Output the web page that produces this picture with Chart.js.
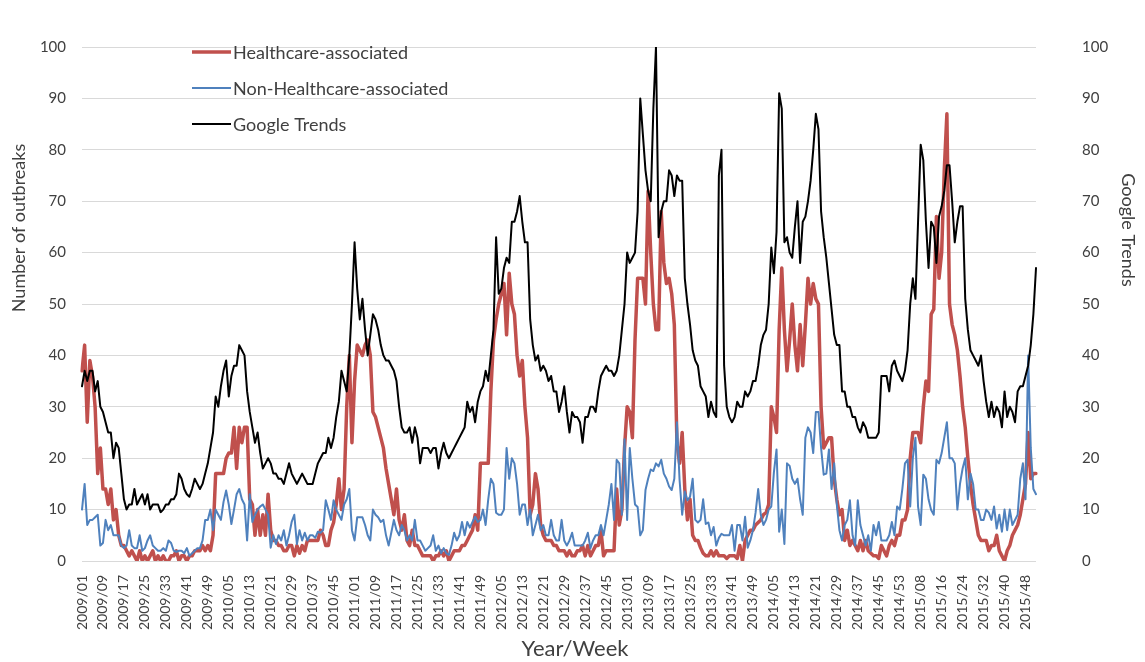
<!DOCTYPE html>
<html>
<head>
<meta charset="UTF-8">
<title>Outbreaks and Google Trends</title>
<script src="https://cdn.jsdelivr.net/npm/chart.js@4.4.0/dist/chart.umd.min.js"></script>
<style>
  html, body { margin: 0; padding: 0; background: #fff; }
</style>
</head>
<body>
<canvas id="myChart" width="1145" height="662"></canvas>
<script>
// weeks 2009/01 .. 2015/52 (2014 has 53 weeks)
const years = [2009, 2010, 2011, 2012, 2013, 2014, 2015];
const weeksInYear = [52, 52, 52, 52, 52, 53, 52];
const weeks = [];
years.forEach((y, k) => {
  for (let w = 1; w <= weeksInYear[k]; w++) weeks.push(y + '/' + String(w).padStart(2, '0'));
});

const yTicks = [0, 10, 20, 30, 40, 50, 60, 70, 80, 90, 100];

const healthcare = [
  37, 42, 27, 39, 36, 30, 17, 22,
  14, 14, 11, 14, 8, 10, 5, 3,
  3, 2, 1, 2, 1, 0, 2, 0,
  1, 0, 1, 2, 0, 1, 0, 1,
  0, 0, 1, 1, 2, 0, 1, 1,
  0, 1, 1, 2, 2, 2, 3, 2,
  3, 2, 5, 17, 17, 17, 17, 20,
  21, 21, 26, 18, 26, 23, 26, 26,
  12, 11, 5, 10, 5, 9, 5, 13,
  6, 4, 4, 3, 3, 2, 2, 3,
  3, 1, 3, 1.5, 3, 2, 4, 4,
  4, 4, 4, 6, 5, 3, 3, 6,
  7.5, 11, 16, 10, 14, 30, 40, 23,
  35, 42, 41, 40, 42, 43, 40, 29,
  28, 26, 24, 22, 18, 15, 12, 9,
  14, 8, 6, 9, 4, 3, 6, 3,
  3, 2, 1, 1, 1, 1, 0, 1,
  1, 2, 1, 2, 0, 1, 2, 2,
  2, 3, 3, 4, 5, 6, 9, 6,
  19, 19, 19, 19, 33, 43, 47, 50,
  52, 54, 44, 56, 50, 48, 40, 36,
  39, 30, 24, 9, 11, 17, 14, 7,
  5, 4, 4, 4, 3, 3, 2, 2,
  2, 1, 2, 1, 1, 2, 2, 3,
  1, 3, 1, 2, 3, 3, 6, 1,
  2, 2, 2, 2, 14, 7, 10, 22,
  30, 29, 24, 43, 55, 55, 55, 50,
  72, 60, 50, 45, 45, 68, 58, 54,
  55, 52, 46, 23, 19, 25, 14, 8,
  12, 5, 4, 4, 2.6, 1.5, 1, 1,
  2, 1, 2, 1, 1, 1, 0.5, 1,
  1, 1, 0.5, 3, 0, 4, 5, 6,
  6, 7, 7.5, 8, 9, 9.4, 11, 30,
  28, 25, 45, 57, 45, 37, 43, 50,
  42, 37, 46, 38, 46, 55, 50, 54,
  51, 50, 30, 22, 23, 24, 24, 16,
  12, 9, 10, 4, 6, 3, 4, 3,
  2, 4, 2, 4, 2, 1.5, 1, 1,
  0.5, 3, 2, 1, 3, 4, 3, 5,
  5, 8, 8, 10, 20, 25, 25, 25,
  23, 30, 35, 33, 48, 49, 67, 55,
  60, 76, 87, 50, 46, 44, 41, 36,
  30, 26, 20, 15, 11, 8, 5, 4,
  4, 4, 2, 3, 3, 5, 2, 1,
  0, 2, 3, 5, 6, 7, 9, 12,
  15, 25, 16, 17, 17
];

const nonHealthcare = [
  10, 15, 7, 8, 8, 8.5, 9, 3,
  3.5, 8, 6, 7, 5, 5, 5, 3,
  2.5, 3, 6, 3, 2.5, 2.5, 5, 2,
  2.5, 4, 5, 3, 2.5, 2, 2, 2.5,
  2, 4, 3.5, 2, 1.8, 2, 2, 1.5,
  2.5, 1, 1.5, 2, 2.5, 2.5, 4, 8,
  8, 10, 6, 10, 9, 8, 11.5, 13.7,
  11, 7.2, 10, 13, 14, 12, 11, 4,
  13, 7.6, 9, 10, 10.6, 11, 10, 9,
  2.6, 5, 3.3, 5, 4, 6, 3, 5,
  7.6, 9, 3.3, 6, 4, 5.5, 4, 5,
  5, 4.5, 5.7, 5.5, 6, 11.8, 10, 8,
  11.8, 10, 9, 8, 11, 12, 14, 6,
  4, 8.5, 8.5, 8.5, 7, 5, 4, 10,
  9, 8.5, 7.6, 8, 5, 3, 5.5, 8,
  6, 5, 7, 6, 4, 5, 4, 8,
  4, 4, 3, 2, 2.5, 3, 5, 2,
  3, 1.5, 2.5, 1.5, 1.2, 3, 5.5, 4,
  5, 7.6, 5, 7.6, 6.5, 7.6, 8.6, 7.6,
  8, 10, 7, 12, 16, 15, 9.4, 9,
  9, 10, 22, 16, 20, 19, 15, 9,
  11, 11, 7, 10, 5, 7, 9, 6,
  7, 5, 5, 8, 5, 4, 4, 8,
  4, 3, 4, 5.5, 3, 3, 3, 3,
  4, 5.5, 2.5, 4, 5, 5, 7, 5,
  8, 11, 15, 8, 19.7, 19, 9, 23.7,
  8, 22, 16, 11, 10.5, 5, 6, 13.8,
  16, 17.8, 17.5, 19, 18.4, 19.7, 17, 16,
  14.5, 13.8, 16, 27, 15.8, 9, 13.5, 11.8,
  12.5, 16, 8, 7.5, 8, 12, 7.2, 7.5,
  5, 6.6, 3, 4.5, 5.3, 5, 5, 5,
  7, 2, 7, 7, 4, 8.6, 2.6, 4,
  6, 9.4, 14, 9, 7, 8, 10, 10.6,
  17.3, 21.7, 5.7, 10, 3.3, 19, 18.5, 16,
  15, 16, 12, 9, 24, 26, 25, 21,
  29, 29, 22, 16.8, 17, 21.7, 14, 19,
  11, 6, 4, 7, 8, 11.8, 5, 3,
  11.8, 7, 5, 3, 5, 2, 7, 5,
  7.6, 4, 4, 4, 5, 7.6, 5, 10.6,
  10, 14, 19, 19.7, 10.6, 20, 24, 10.6,
  7, 16.8, 16, 12, 9.9, 9, 19.7, 19,
  21, 24, 27, 20, 20, 19, 10, 15,
  18, 20, 12, 17, 15, 10, 10, 8,
  8, 10, 9.4, 8, 10.6, 6.3, 9, 5.7,
  10, 6, 10, 7, 8, 9, 16, 19,
  12, 40, 22, 14, 13
];

const googleTrends = [
  34, 37, 35, 37, 37, 33, 35, 30,
  29, 27, 25, 25, 20, 23, 22, 17,
  12, 10, 11, 11, 14, 11, 12, 13,
  11, 13, 10, 11, 11, 11, 9.5, 10,
  11, 11, 12, 12, 13, 17, 16, 14,
  13, 12.5, 14, 16, 15, 14, 15, 17,
  19, 22, 25, 32, 30, 34, 37, 39,
  32, 36, 38, 38, 42, 41, 40, 33,
  29, 26, 23, 25, 21, 18, 19, 20,
  19, 17, 17, 16, 16, 15, 17, 19,
  17, 16, 15, 16, 17, 16, 15, 15,
  15, 17, 19, 20, 21, 21, 24, 22,
  24, 28, 31, 37, 35, 33, 40, 50,
  62, 53, 47, 51, 45, 40, 44, 48,
  47, 45, 42, 40, 39, 39, 38, 37,
  35, 30, 26, 25, 25, 26, 23, 26,
  24, 19, 22, 22, 22, 21, 22, 22,
  18, 21, 23, 21, 20, 21, 22, 23,
  24, 25, 26, 31, 29, 30, 27, 31,
  33, 34, 37, 35, 40, 45, 63, 52,
  53, 57, 59, 58, 66, 66, 68, 71,
  66, 62, 62, 47, 42, 39, 40, 37,
  38, 37, 35, 36, 33, 33, 29, 31,
  34, 29, 25, 29, 28, 28, 27, 23,
  28, 28, 30, 30, 29, 33, 36, 37,
  38, 37, 37, 36, 37, 40, 45, 50,
  60, 58, 59, 60, 68, 90, 83, 76,
  72, 70, 88, 100, 63, 68, 70, 70,
  76, 75, 71, 75, 74, 74, 55, 50,
  46, 41, 39, 38, 34, 33, 32, 28,
  31, 29, 28, 75, 80, 38, 30, 28,
  27, 28, 31, 30, 30, 33, 32, 33,
  35, 35, 38, 42, 44, 45, 50, 61,
  56, 64, 91, 88, 62, 63, 60, 59,
  65, 70, 58, 66, 67, 70, 74, 80,
  87, 84, 68, 63, 59, 54, 49, 44,
  42, 42, 33, 33, 30, 30, 28, 28,
  26, 25, 27, 26, 24, 24, 24, 24,
  25, 36, 36, 36, 33, 38, 39, 37,
  36, 35, 37, 41, 50, 55, 51, 66,
  81, 78, 66, 57, 66, 65, 58, 67,
  69, 72, 77, 77, 70, 62, 66, 69,
  69, 51, 45, 41, 40, 39, 38, 40,
  35, 31, 28, 31, 28, 30, 29, 26,
  33, 28, 30, 29, 27, 33, 34, 34,
  36, 38, 42, 48, 57
];

const FONT = 'Lato, "Open Sans", sans-serif';
const TEXT = '#404040';

// legend + axis titles drawn by hand, Excel style
const decorations = {
  id: 'decorations',
  afterDraw(chart) {
    const ctx = chart.ctx;
    ctx.save();
    ctx.textBaseline = 'middle';
    ctx.font = '18px ' + FONT;
    chart.data.datasets.forEach((ds, i) => {
      const y = 52 + i * 36;
      ctx.strokeStyle = ds.borderColor;
      ctx.lineWidth = ds.borderWidth;
      ctx.beginPath();
      ctx.moveTo(192, y);
      ctx.lineTo(231, y);
      ctx.stroke();
      ctx.fillStyle = TEXT;
      ctx.textAlign = 'left';
      ctx.fillText(ds.label, 233, y + 1);
    });

    ctx.fillStyle = TEXT;
    ctx.textAlign = 'center';
    ctx.font = '22px ' + FONT;
    ctx.fillText('Year/Week', 575, 649);

    ctx.font = '18px ' + FONT;
    ctx.save();
    ctx.translate(19, 228);
    ctx.rotate(-Math.PI / 2);
    ctx.fillText('Number of outbreaks', 0, 0);
    ctx.restore();

    ctx.save();
    ctx.translate(1128, 230);
    ctx.rotate(Math.PI / 2);
    ctx.fillText('Google Trends', 0, 0);
    ctx.restore();
    ctx.restore();
  }
};

const ctx = document.getElementById('myChart').getContext('2d');
new Chart(ctx, {
  type: 'line',
  data: {
    labels: weeks,
    datasets: [{
      label: 'Healthcare-associated',
      data: healthcare,
      borderColor: '#c0504d',
      borderWidth: 3.5,
      yAxisID: 'y',
      order: 3
    }, {
      label: 'Non-Healthcare-associated',
      data: nonHealthcare,
      borderColor: '#4f81bd',
      borderWidth: 2,
      yAxisID: 'y',
      order: 2
    }, {
      label: 'Google Trends',
      data: googleTrends,
      borderColor: '#000000',
      borderWidth: 2,
      yAxisID: 'y1',
      order: 1
    }]
  },
  options: {
    responsive: false,
    devicePixelRatio: 1,
    animation: false,
    layout: { padding: { top: 18, left: 0, right: 0, bottom: 0 } },
    elements: {
      point: { radius: 0 },
      line: { tension: 0, borderJoinStyle: 'round', borderCapStyle: 'round' }
    },
    plugins: { legend: { display: false }, tooltip: { enabled: false } },
    scales: {
      x: {
        type: 'category',
        offset: false,
        grid: { display: false },
        border: { display: false },
        ticks: {
          autoSkip: false,
          minRotation: 90,
          maxRotation: 90,
          padding: 6,
          color: TEXT,
          font: { family: FONT, size: 14 },
          callback: (v, i) => (i % 8 === 0 ? weeks[i] : '')
        },
        afterFit: s => { s.height = 101; }
      },
      y: {
        position: 'left',
        min: 0,
        max: 100,
        afterBuildTicks: s => { s.ticks = yTicks.map(v => ({ value: v })); },
        grid: { color: '#d9d9d9', lineWidth: 1, drawTicks: false },
        border: { display: false },
        ticks: { padding: 16, color: TEXT, font: { family: FONT, size: 15 } },
        afterFit: s => { s.width = 82; }
      },
      y1: {
        position: 'right',
        min: 0,
        max: 100,
        afterBuildTicks: s => { s.ticks = yTicks.map(v => ({ value: v })); },
        grid: { display: false },
        border: { display: false },
        ticks: { padding: 38, color: TEXT, font: { family: FONT, size: 15 } },
        afterFit: s => { s.width = 109; }
      }
    }
  },
  plugins: [decorations]
});
</script>
</body>
</html>
